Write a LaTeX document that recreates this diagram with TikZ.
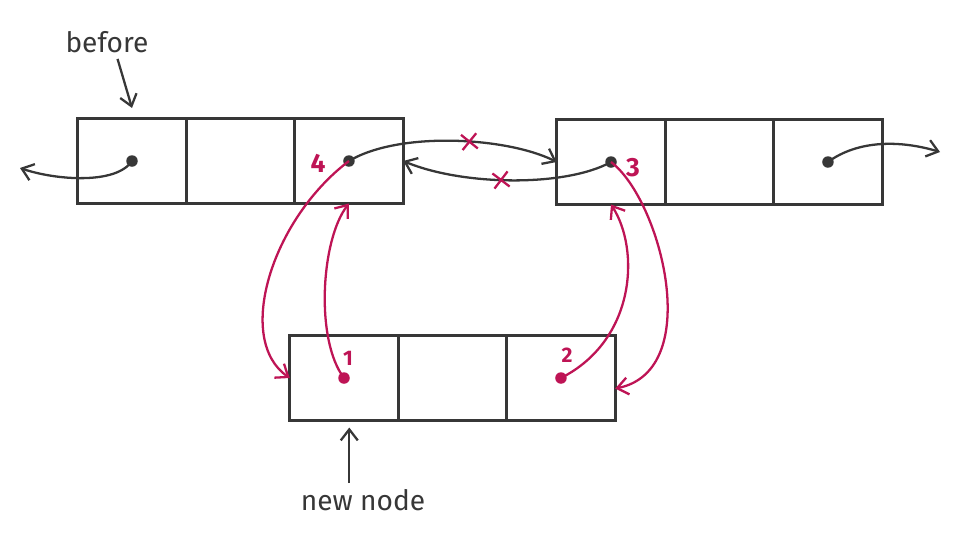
\documentclass[tikz,border=0pt]{standalone}
\usepackage{fontspec}
\setmainfont{Fira Sans}
\usetikzlibrary{arrows.meta,positioning,shapes.misc}
\definecolor{pencil}{RGB}{55,55,55}
\definecolor{berry}{RGB}{190,20,85}
\tikzset{
  >={Straight Barb[length=2.2mm,width=3.4mm]},
  cell/.style={draw=pencil,line width=1.6pt,minimum width=2.17cm,minimum height=1.7cm,
    inner sep=0pt,outer sep=0pt},
  link/.style={->,draw=#1,line width=1.3pt},
  link/.default=pencil,
  dot/.style={circle,fill=#1,inner sep=0pt,minimum size=2.3mm},
  dot/.default=pencil,
  tag/.style={font=\fontsize{16}{18}\selectfont,text=pencil},
  step no/.style={font=\fontsize{#1}{#1}\selectfont\bfseries,text=berry},
  step no/.default=15,
  cut/.style={cross out,draw=berry,line width=1.3pt,minimum size=2.6mm,inner sep=0pt,
    sloped,rotate=10},
}
\begin{document}
\begin{tikzpicture}[x=0.02cm,y=-0.02cm]
  \useasboundingbox (0,0) rectangle (963,545);
  % the three list nodes
  \node[cell] (l1) at (132,161) {};
  \node[cell,right=0pt of l1] (l2) {};
  \node[cell,right=0pt of l2] (l3) {};
  \node[cell] (r1) at (611,162) {};
  \node[cell,right=0pt of r1] (r2) {};
  \node[cell,right=0pt of r2] (r3) {};
  \node[cell] (n1) at (344,378) {};
  \node[cell,right=0pt of n1] (n2) {};
  \node[cell,right=0pt of n2] (n3) {};
  % pointers
  \node[dot] (lp) at (l1.center) {};
  \node[dot] (ln) at (l3.center) {};
  \node[dot] (rp) at (r1.center) {};
  \node[dot] (rn) at (r3.center) {};
  \node[dot=berry] (np) at (n1.center) {};
  \node[dot=berry] (nn) at (n3.center) {};
  \coordinate (prev) at (20,168);
  \coordinate (next) at (940,152);
  \draw[link] (lp.center) .. controls +(-16,24) and +(35,12) .. (prev);
  \draw[link] (rn.center) .. controls +(30,-22) and +(-40,-12) .. (next);
  \draw[link] (ln.center) .. controls +(50,-30) and +(-50,-25) .. (r1.west)
    node[cut,pos=0.57] (cutA) {};
  \draw[link] (rp.center) .. controls +(-45,25) and +(60,25) .. (l3.east)
    node[cut,pos=0.55] (cutB) {};
  % new links
  \draw[link=berry] (np.center) .. controls +(-29,-38) and +(-28,36) .. (l3.south);
  \draw[link=berry] (nn.center) .. controls +(75,-38) and +(29,45) .. (r1.south);
  \draw[link=berry] (rp.center) .. controls +(50,38) and +(90,-18) .. ([yshift=-6pt]n3.east);
  \draw[link=berry] (ln.center) .. controls +(-78,59) and +(-55,-38) .. (n1.west);
  \node[step no=12] (s1) at (348,358) {1};
  \node[step no=12] (s2) at (567,355) {2};
  \node[step no] (s3) at (633,168) {3};
  \node[step no] (s4) at (318,163) {4};
  % labels
  \node[tag] (before) at (107,42) {before};
  \node[tag] (newnode) at (363,500) {new node};
  \draw[link] ([xshift=6pt]before.south) -- ([yshift=6pt]l1.north);
  \draw[link] ([xshift=3pt]n1.south |- newnode.north) -- ([xshift=3pt,yshift=-4pt]n1.south);
\end{tikzpicture}
\end{document}
